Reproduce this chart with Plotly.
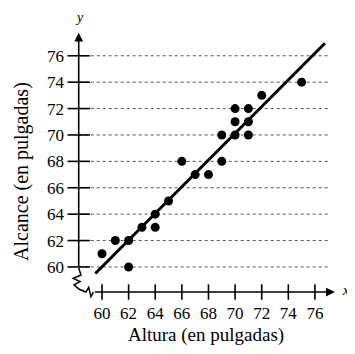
import plotly.graph_objects as go

# datos: altura vs alcance (en pulgadas)
altura = [60, 61, 62, 62, 63, 64, 64, 65, 66, 67, 68, 69, 69, 70, 70, 70, 71, 71, 71, 72, 75]
alcance = [61, 62, 62, 60, 63, 64, 63, 65, 68, 67, 67, 70, 68, 72, 71, 70, 72, 71, 70, 73, 74]

# recta de ajuste (extremos)
recta_x = [59.5, 76.75]
recta_y = [59.5, 76.95]

xticks = [60, 62, 64, 66, 68, 70, 72, 74, 76]
yticks = [60, 62, 64, 66, 68, 70, 72, 74, 76]

# origen de los ejes dibujados (con corte)
x0, y0 = 58.25, 58.1
x_fin, y_fin = 77.5, 77.75
grid_fin = 77.0

FONT = "Liberation Serif"
# la pagina tiene 8px de margen en el body: la figura empieza en (8, 8)
OFF = 8
W, H = 355 - OFF, 354 - OFF
L, R, T, B = 67 - OFF, 6, 27 - OFF, 53
PW, PH = W - L - R, H - T - B

fig = go.Figure()

# marcas de los ejes (cruces)
fig.add_trace(go.Scatter(
    x=xticks, y=[y0] * len(xticks), mode="markers", hoverinfo="skip",
    marker=dict(symbol="line-ns", size=11, line=dict(width=1.6, color="black")),
))
fig.add_trace(go.Scatter(
    x=[x0] * len(yticks), y=yticks, mode="markers", hoverinfo="skip",
    marker=dict(symbol="line-ew", size=16, line=dict(width=1.6, color="black")),
))

fig.add_trace(go.Scatter(
    x=recta_x, y=recta_y, mode="lines",
    line=dict(color="black", width=3),
))
fig.add_trace(go.Scatter(
    x=altura, y=alcance, mode="markers",
    marker=dict(color="black", size=9),
))

shapes = []
for t in yticks:
    shapes.append(dict(type="line", xref="x", yref="y", x0=x0, x1=grid_fin, y0=t, y1=t,
                       line=dict(color="#555", width=1, dash="dot"), layer="below"))

# corte en zigzag cerca del origen
zz = [(x0, 59.92), (58.42, 59.39), (57.84, 59.14), (58.35, 58.89), (57.90, 58.64),
      (58.29, 58.31), (58.80, y0), (59.00, 58.46), (59.17, 57.75), (59.35, y0)]
path = "M " + " L ".join(f"{a},{b}" for a, b in zz)
shapes.append(dict(type="path", xref="x", yref="y", path=path,
                   line=dict(color="black", width=1.5)))


def px(xp, yp):
    # pixel de la ventana -> coordenadas paper
    return (xp - OFF - L) / PW, (H - B - (yp - OFF)) / PH


tx, ty = px(206, 335)
lx, ly = px(21, 172)

annotations = [
    # eje y con flecha
    dict(x=x0, y=y_fin, ax=x0, ay=59.92, xref="x", yref="y", axref="x", ayref="y",
         text="", showarrow=True, arrowhead=2, arrowsize=1.1, arrowwidth=1.6, arrowcolor="black"),
    # eje x con flecha
    dict(x=x_fin, y=y0, ax=59.35, ay=y0, xref="x", yref="y", axref="x", ayref="y",
         text="", showarrow=True, arrowhead=2, arrowsize=1.1, arrowwidth=1.6, arrowcolor="black"),
    dict(x=x0 + 0.05, y=78.0, yshift=12, xref="x", yref="y", text="<i>y</i>", showarrow=False,
         font=dict(family=FONT, size=14, color="black")),
    dict(x=78.3, y=y0 + 0.15, xref="x", yref="y", text="<i>x</i>", showarrow=False,
         font=dict(family=FONT, size=14, color="black")),
    dict(x=tx, y=ty, xref="paper", yref="paper", text="Altura (en pulgadas)", showarrow=False,
         xanchor="center", yanchor="middle",
         font=dict(family=FONT, size=19, color="black")),
    dict(x=lx, y=ly, xref="paper", yref="paper", text="Alcance (en pulgadas)", textangle=-90,
         showarrow=False, xanchor="center", yanchor="middle",
         font=dict(family=FONT, size=20, color="black")),
]

fig.update_layout(
    width=W, height=H,
    margin=dict(l=L, r=R, t=T, b=B),
    paper_bgcolor="white", plot_bgcolor="white",
    showlegend=False,
    shapes=shapes,
    annotations=annotations,
    font=dict(family=FONT, size=17, color="black"),
    xaxis=dict(range=[57.37, 78.56], tickvals=xticks, showgrid=False, zeroline=False,
               showline=False, ticks="", automargin=False),
    yaxis=dict(range=[57.42, 78.18], tickvals=yticks, showgrid=False, zeroline=False,
               showline=False, ticks="", automargin=False, ticklabelstandoff=2),
)

fig.write_html("out.html")
